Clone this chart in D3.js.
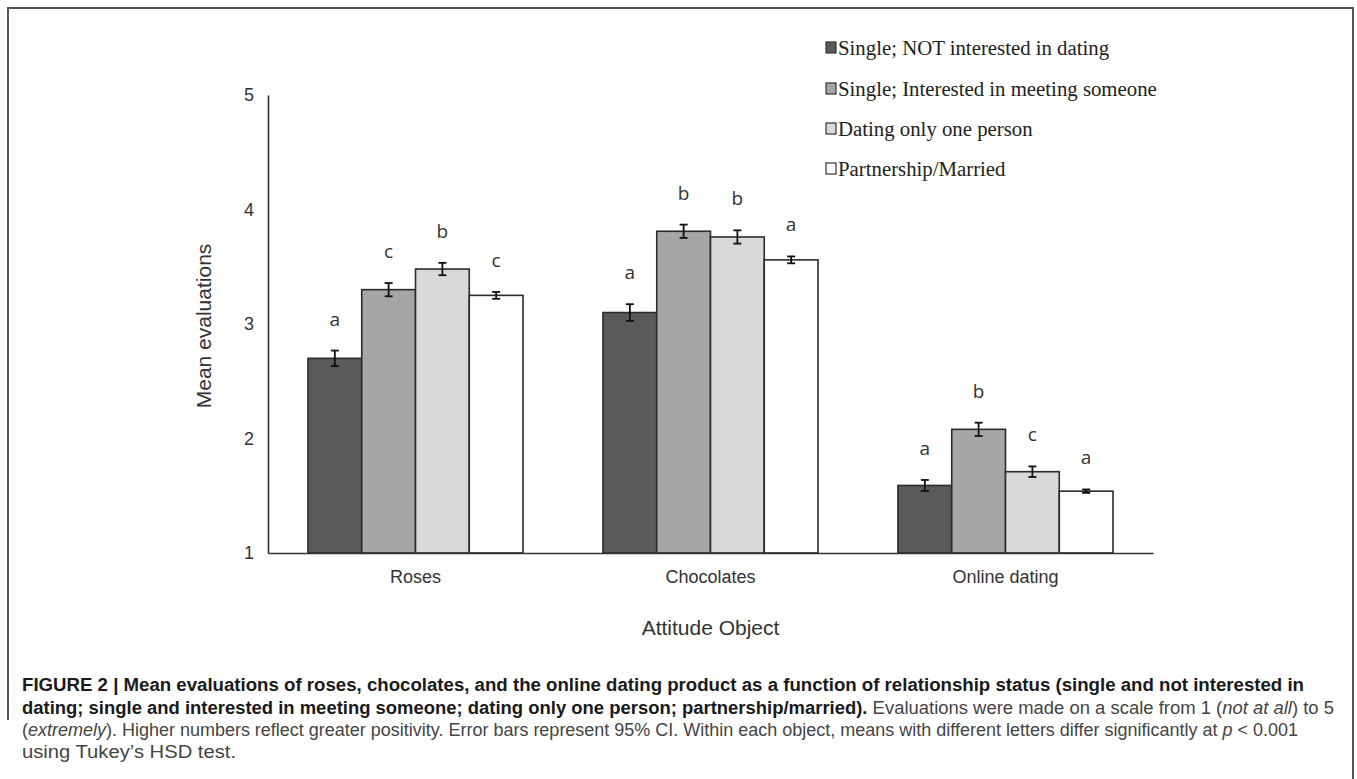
<!DOCTYPE html>
<html>
<head>
<meta charset="utf-8">
<script src="https://cdn.jsdelivr.net/npm/d3@7"></script>
<style>
  html, body { margin: 0; padding: 0; background: #fff; }
  svg { display: block; }
</style>
</head>
<body>
<svg id="chart" width="1357" height="779"></svg>
<script>
// ---------- DATA ----------
const categories = ["Roses", "Chocolates", "Online dating"];
const seriesNames = [
  "Single; NOT interested in dating",
  "Single; Interested in meeting someone",
  "Dating only one person",
  "Partnership/Married"
];
const notInterestedMeans = [2.70, 3.10, 1.59];
const interestedMeans    = [3.30, 3.81, 2.08];
const datingOneMeans     = [3.48, 3.76, 1.71];
const marriedMeans       = [3.25, 3.56, 1.54];

const notInterestedCI = [0.068, 0.073, 0.048];
const interestedCI    = [0.058, 0.058, 0.058];
const datingOneCI     = [0.054, 0.058, 0.046];
const marriedCI       = [0.030, 0.030, 0.015];

const notInterestedLetters = ["a", "a", "a"];
const interestedLetters    = ["c", "b", "b"];
const datingOneLetters     = ["b", "b", "c"];
const marriedLetters       = ["c", "a", "a"];

const yTicks = [1, 2, 3, 4, 5];
const yLabel = "Mean evaluations";
const xLabel = "Attitude Object";

const seriesColors = ["#5a5a5a", "#a6a6a6", "#d9d9d9", "#ffffff"];

const means = [notInterestedMeans, interestedMeans, datingOneMeans, marriedMeans];
const cis = [notInterestedCI, interestedCI, datingOneCI, marriedCI];
const letters = [notInterestedLetters, interestedLetters, datingOneLetters, marriedLetters];

// ---------- LAYOUT ----------
const svg = d3.select("#chart");
const plot = { left: 268, right: 1153, top: 95, bottom: 553 };

// frame
svg.append("path")
  .attr("d", "M8,720 L8,8 L1353,8 L1353,779")
  .attr("fill", "none")
  .attr("stroke", "#555")
  .attr("stroke-width", 2);

const x0 = d3.scaleBand().domain(categories)
  .range([plot.left, plot.right])
  .paddingInner(0.271).paddingOuter(0.1355);
const x1 = d3.scaleBand().domain(d3.range(seriesNames.length))
  .range([0, x0.bandwidth()]).padding(0);
const y = d3.scaleLinear().domain([1, 5]).range([plot.bottom, plot.top]);

// rows of data
const rows = [];
categories.forEach((c, ci) => {
  seriesNames.forEach((s, si) => {
    rows.push({ cat: c, si, mean: means[si][ci], ci: cis[si][ci], letter: letters[si][ci] });
  });
});

// bars
svg.append("g").selectAll("rect").data(rows).join("rect")
  .attr("x", d => x0(d.cat) + x1(d.si))
  .attr("y", d => y(d.mean))
  .attr("width", x1.bandwidth())
  .attr("height", d => y(1) - y(d.mean))
  .attr("fill", d => seriesColors[d.si])
  .attr("stroke", "#2b2b2b")
  .attr("stroke-width", 1.6);

// error bars
const eb = svg.append("g").attr("stroke", "#111").attr("stroke-width", 1.8);
rows.forEach(d => {
  const cx = x0(d.cat) + x1(d.si) + x1.bandwidth() / 2;
  const yt = y(d.mean + d.ci), yb = y(d.mean - d.ci);
  eb.append("line").attr("x1", cx).attr("x2", cx).attr("y1", yt).attr("y2", yb);
  eb.append("line").attr("x1", cx - 4).attr("x2", cx + 4).attr("y1", yt).attr("y2", yt);
  eb.append("line").attr("x1", cx - 4).attr("x2", cx + 4).attr("y1", yb).attr("y2", yb);
});

// significance letters
svg.append("g").selectAll("text").data(rows).join("text")
  .attr("x", d => x0(d.cat) + x1(d.si) + x1.bandwidth() / 2)
  .attr("y", d => y(d.mean + d.ci) - 32)
  .attr("text-anchor", "middle")
  .attr("dominant-baseline", "central")
  .attr("font-family", "'Open Sans', 'Noto Sans', sans-serif")
  .attr("font-size", 19)
  .attr("fill", "#333")
  .text(d => d.letter);

// axes
const yAxis = svg.append("g").attr("transform", `translate(${plot.left},0)`)
  .call(d3.axisLeft(y).tickValues(yTicks).tickFormat(d3.format("d")).tickSize(0).tickPadding(14));
yAxis.select(".domain").attr("stroke", "#333").attr("stroke-width", 1.6);
yAxis.selectAll("text").attr("font-family", "'Liberation Sans', Arial, sans-serif")
  .attr("font-size", 18).attr("fill", "#333");

const xAxis = svg.append("g").attr("transform", `translate(0,${plot.bottom})`)
  .call(d3.axisBottom(x0).tickSize(0).tickPadding(17));
xAxis.select(".domain").attr("stroke", "#333").attr("stroke-width", 1.6);
xAxis.selectAll("text").attr("font-family", "'Liberation Sans Narrow', 'Liberation Sans', Arial, sans-serif")
  .attr("font-size", 18).attr("fill", "#333");

// axis titles
svg.append("text")
  .attr("transform", `translate(203,${(plot.top + plot.bottom) / 2 + 2}) rotate(-90)`)
  .attr("text-anchor", "middle").attr("dominant-baseline", "central")
  .attr("font-family", "'Liberation Sans', Arial, sans-serif")
  .attr("font-size", 21).attr("fill", "#333")
  .text(yLabel);
svg.append("text")
  .attr("x", (plot.left + plot.right) / 2).attr("y", 627)
  .attr("text-anchor", "middle").attr("dominant-baseline", "central")
  .attr("font-family", "'Liberation Sans Narrow', 'Liberation Sans', Arial, sans-serif")
  .attr("font-size", 21).attr("fill", "#333")
  .text(xLabel);

// legend
const legend = svg.append("g").attr("transform", "translate(826,0)");
const legendRowY = [47, 88, 128, 168];
seriesNames.forEach((s, i) => {
  legend.append("rect").attr("x", 0).attr("y", legendRowY[i] - 5).attr("width", 10).attr("height", 11)
    .attr("fill", seriesColors[i]).attr("stroke", "#333").attr("stroke-width", 1.2);
  legend.append("text").attr("x", 12).attr("y", legendRowY[i])
    .attr("dominant-baseline", "central")
    .attr("font-family", "'Liberation Serif', 'Times New Roman', serif")
    .attr("font-size", 20.8).attr("fill", "#222")
    .text(s);
});

// caption
const capFont = "'Liberation Sans Narrow', 'Liberation Sans', Arial, sans-serif";
const capX = 22;
const captionLines = [
  { y: 685, width: 1282, parts: [
    { t: "FIGURE 2 | Mean evaluations of roses, chocolates, and the online dating product as a function of relationship status (single and not interested in", b: true }
  ]},
  { y: 707.5, width: 1312, parts: [
    { t: "dating; single and interested in meeting someone; dating only one person; partnership/married).", b: true },
    { t: " Evaluations were made on a scale from 1 (" },
    { t: "not at all", i: true },
    { t: ") to 5" }
  ]},
  { y: 730, width: 1276, parts: [
    { t: "(" },
    { t: "extremely", i: true },
    { t: "). Higher numbers reflect greater positivity. Error bars represent 95% CI. Within each object, means with different letters differ significantly at " },
    { t: "p", i: true },
    { t: " < 0.001" }
  ]},
  { y: 752, width: 214, parts: [
    { t: "using Tukey\u2019s HSD test." }
  ]}
];
captionLines.forEach(line => {
  const t = svg.append("text").attr("x", capX).attr("y", line.y)
    .attr("dominant-baseline", "central")
    .attr("font-family", capFont).attr("font-size", 17.5);
  line.parts.forEach(p => {
    t.append("tspan").text(p.t)
      .attr("font-weight", p.b ? "bold" : "normal")
      .attr("font-style", p.i ? "italic" : "normal")
      .attr("fill", p.b ? "#1a1a1a" : "#444");
  });
  t.attr("textLength", line.width).attr("lengthAdjust", "spacingAndGlyphs");
});
</script>
</body>
</html>
